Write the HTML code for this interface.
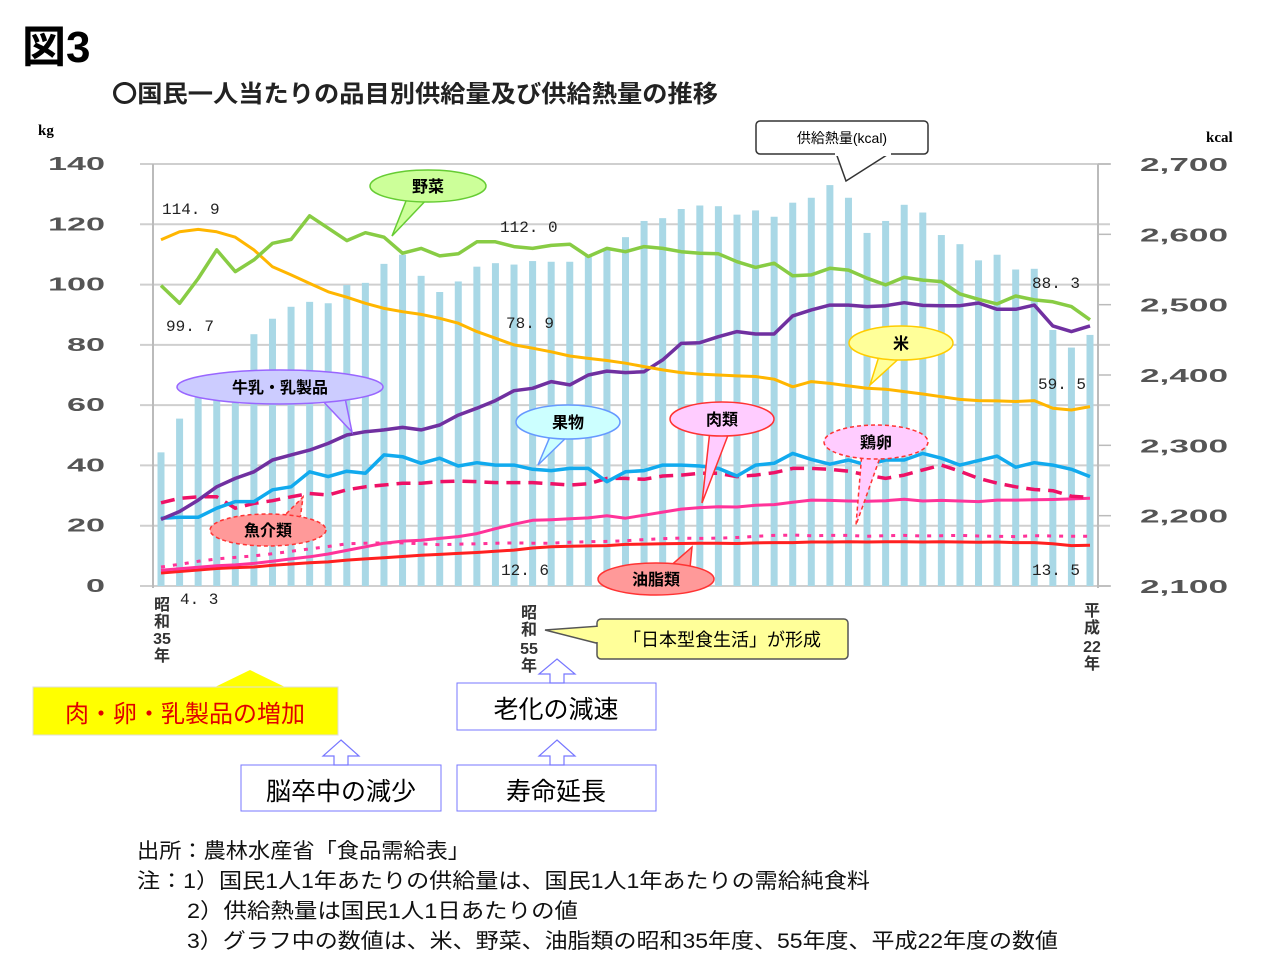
<!DOCTYPE html>
<html><head><meta charset="utf-8">
<style>
html,body{margin:0;padding:0;background:#fff;}
svg{display:block;font-family:"Liberation Sans","Noto Sans CJK JP",sans-serif;}
.jp{font-family:"Liberation Sans","Noto Sans CJK JP",sans-serif;}
.num{font-family:"Liberation Mono","Noto Sans CJK JP",monospace;font-size:16px;fill:#222;}
.tick{font-family:"Liberation Sans",sans-serif;font-size:18px;fill:#555;font-weight:bold;}
</style></head>
<body>
<svg id="chart" width="1280" height="960" viewBox="0 0 1280 960">
<text x="22" y="62" font-size="44" font-weight="bold" class="jp">図3</text>
<text x="112" y="102" font-size="24" font-weight="bold" fill="#222" class="jp" textLength="606" lengthAdjust="spacingAndGlyphs">〇国民一人当たりの品目別供給量及び供給熱量の推移</text>
<text x="38" y="135" font-size="15" font-weight="bold" font-family="Liberation Serif">kg</text>
<text x="1206" y="142" font-size="15" font-weight="bold" font-family="Liberation Serif">kcal</text>
<g id="grid"></g>
<g id="bars"></g>
<g id="lines"></g>
<g id="axes"></g>

<g>
<polygon points="408,196 430,196 392,236" fill="#ccff99" stroke="#66cc33" stroke-width="1.5"/>
<ellipse cx="428" cy="186" rx="58" ry="16" fill="#ccff99" stroke="#66cc33" stroke-width="1.5"/>
<text x="428" y="192" text-anchor="middle" font-size="16" font-weight="bold" class="jp">野菜</text></g>
<g>
<polygon points="320,398 345,398 352,432" fill="#ccccff" stroke="#9966ff" stroke-width="1.5"/>
<ellipse cx="280" cy="387" rx="103" ry="17" fill="#ccccff" stroke="#9966ff" stroke-width="1.5"/>
<text x="280" y="393" text-anchor="middle" font-size="16" font-weight="bold" class="jp">牛乳・乳製品</text></g>
<g>
<polygon points="552,432 572,432 538,465" fill="#ccffff" stroke="#6699ff" stroke-width="1.5"/>
<ellipse cx="568" cy="422" rx="52" ry="17" fill="#ccffff" stroke="#6699ff" stroke-width="1.5"/>
<text x="568" y="428" text-anchor="middle" font-size="16" font-weight="bold" class="jp">果物</text></g>
<g>
<polygon points="710,430 730,430 702,503" fill="#ffccff" stroke="#ff3333" stroke-width="1.5"/>
<ellipse cx="722" cy="419" rx="52" ry="17" fill="#ffccff" stroke="#ff3333" stroke-width="1.5"/>
<text x="722" y="425" text-anchor="middle" font-size="16" font-weight="bold" class="jp">肉類</text></g>
<g>
<polygon points="862,452 882,452 856,525" fill="#ffccff" stroke="#ff3333" stroke-width="1.5" stroke-dasharray="4,3"/>
<ellipse cx="876" cy="442" rx="52" ry="17" fill="#ffccff" stroke="#ff3333" stroke-width="1.5" stroke-dasharray="4,3"/>
<text x="876" y="448" text-anchor="middle" font-size="16" font-weight="bold" class="jp">鶏卵</text></g>
<g>
<polygon points="880,353 905,353 870,385" fill="#ffff99" stroke="#ffcc00" stroke-width="1.5"/>
<ellipse cx="901" cy="343" rx="52" ry="17" fill="#ffff99" stroke="#ffcc00" stroke-width="1.5"/>
<text x="901" y="349" text-anchor="middle" font-size="16" font-weight="bold" class="jp">米</text></g>
<g>
<polygon points="280,520 300,520 303,497" fill="#ff9999" stroke="#ff3333" stroke-width="1.5" stroke-dasharray="4,3"/>
<ellipse cx="268" cy="530" rx="58" ry="16" fill="#ff9999" stroke="#ff3333" stroke-width="1.5" stroke-dasharray="4,3"/>
<text x="268" y="536" text-anchor="middle" font-size="16" font-weight="bold" class="jp">魚介類</text></g>
<g>
<polygon points="668,568 690,568 692,547" fill="#ff9999" stroke="#ff3333" stroke-width="1.5"/>
<ellipse cx="656" cy="579" rx="58" ry="16" fill="#ff9999" stroke="#ff3333" stroke-width="1.5"/>
<text x="656" y="585" text-anchor="middle" font-size="16" font-weight="bold" class="jp">油脂類</text></g>
<g>
<polygon points="836,153 890,153 846,181" fill="#fff" stroke="#333" stroke-width="1.5"/>
<rect x="756" y="121" width="172" height="33" rx="4" fill="#fff" stroke="#333" stroke-width="1.5"/>
<rect x="835" y="150" width="56" height="6" fill="#fff"/>
<text x="842" y="143" text-anchor="middle" font-size="14" class="jp">供給熱量(kcal)</text></g>
<g>
<polygon points="600,626 600,644 545,630" fill="#ffff99" stroke="#555" stroke-width="1.5"/>
<rect x="597" y="619" width="251" height="40" rx="4" fill="#ffff99" stroke="#555" stroke-width="1.5"/>
<rect x="596" y="627" width="4" height="15" fill="#ffff99"/>
<text x="722" y="646" text-anchor="middle" font-size="18" class="jp">「日本型食生活」が形成</text></g>

<text class="num" x="162" y="214">114. 9</text>
<text class="num" x="166" y="331">99. 7</text>
<text class="num" x="500" y="232">112. 0</text>
<text class="num" x="506" y="328">78. 9</text>
<text class="num" x="1032" y="288">88. 3</text>
<text class="num" x="1038" y="389">59. 5</text>
<text class="num" x="501" y="575">12. 6</text>
<text class="num" x="1032" y="575">13. 5</text>
<text class="num" x="180" y="604">4. 3</text>

<g font-size="16" font-weight="bold" fill="#333" class="jp" text-anchor="middle">
<text x="162" y="610">昭</text><text x="162" y="627">和</text><text x="162" y="644">35</text><text x="162" y="661">年</text></g>
<g font-size="16" font-weight="bold" fill="#333" class="jp" text-anchor="middle">
<text x="529" y="618">昭</text><text x="529" y="635">和</text><text x="529" y="654">55</text><text x="529" y="671">年</text></g>
<g font-size="16" font-weight="bold" fill="#333" class="jp" text-anchor="middle">
<text x="1092" y="616">平</text><text x="1092" y="633">成</text><text x="1092" y="652">22</text><text x="1092" y="669">年</text></g>

<g>
<polygon points="213,688 250,670 287,688" fill="#ffff00"/>
<rect x="33" y="687" width="305" height="48" fill="#ffff00" stroke="#ddd"/>
<text x="185" y="722" text-anchor="middle" font-size="24" fill="#e00000" class="jp">肉・卵・乳製品の増加</text></g>
<g>
<rect x="457" y="683" width="199" height="47" fill="#fff" stroke="#7777ff"/>
<text x="556" y="718" text-anchor="middle" font-size="25" class="jp">老化の減速</text></g>
<g>
<rect x="241" y="765" width="200" height="46" fill="#fff" stroke="#7777ff"/>
<text x="341" y="800" text-anchor="middle" font-size="25" class="jp">脳卒中の減少</text></g>
<g>
<rect x="457" y="765" width="199" height="46" fill="#fff" stroke="#7777ff"/>
<text x="556" y="800" text-anchor="middle" font-size="25" class="jp">寿命延長</text></g>
<g fill="#fff" stroke="#7777ff" stroke-width="1.2">
<polygon points="557,659 575,674 564,674 564,683 550,683 550,674 539,674"/>
<polygon points="557,740 575,756 564,756 564,765 550,765 550,756 539,756"/>
<polygon points="341,740 359,756 348,756 348,765 334,765 334,756 323,756"/>
</g>

<g font-size="21" class="jp" fill="#111">
<text x="137" y="858" textLength="333" lengthAdjust="spacingAndGlyphs">出所：農林水産省「食品需給表」</text>
<text x="137" y="888" textLength="733" lengthAdjust="spacingAndGlyphs">注：1）国民1人1年あたりの供給量は、国民1人1年あたりの需給純食料</text>
<text x="187" y="918" textLength="391" lengthAdjust="spacingAndGlyphs">2）供給熱量は国民1人1日あたりの値</text>
<text x="187" y="948" textLength="871" lengthAdjust="spacingAndGlyphs">3）グラフ中の数値は、米、野菜、油脂類の昭和35年度、55年度、平成22年度の数値</text>
</g>
</svg>
<script>
const years = [];
for (let y = 1960; y <= 2010; y++) years.push(y);
const kcal = [2290,2338,2369,2380,2390,2458,2480,2497,2504,2502,2528,2531,2558,2571,2541,2518,2533,2554,2559,2557,2562,2561,2561,2570,2578,2596,2619,2623,2636,2641,2640,2628,2634,2625,2645,2652,2670,2652,2602,2619,2642,2631,2599,2586,2563,2571,2550,2551,2464,2439,2457];
const rice = [114.9,117.5,118.3,117.5,115.7,111.5,105.9,103.2,100.4,97.6,95.8,93.8,92.1,91,90.1,88.8,87.2,84.4,82.2,80,78.9,77.7,76.3,75.5,74.8,73.9,72.8,71.7,70.8,70.3,70,69.7,69.5,68.6,66.1,67.8,67.2,66.4,65.6,65.3,64.5,63.7,62.8,61.9,61.5,61.4,61.2,61.5,59,58.4,59.5];
const veg = [99.7,93.8,102,111.5,104.3,108.2,113.7,115,122.8,118.7,114.6,117.2,115.7,110.4,112,109.5,110.2,114.2,114.2,112.6,112,113,113.4,109.3,112,110.9,112.6,112,110.9,110.4,110.2,107.6,105.7,107.1,102.9,103.2,105.4,104.8,102.1,99.9,102.4,101.5,101,96.9,95.1,93.6,96.2,94.9,94.3,92.7,88.3];
const milk = [22.1,24.7,28.5,32.9,35.7,37.9,41.8,43.5,45.1,47.3,50.1,51.2,51.8,52.6,51.8,53.4,56.7,59,61.5,64.8,65.6,67.8,66.7,70,71.3,70.8,71.1,75,80.5,80.7,82.7,84.4,83.6,83.6,89.6,91.6,93.2,93.2,92.7,93,94,93.1,93,93,93.9,91.8,91.8,93.2,86.3,84.4,86.3];
const fruit = [22.5,22.8,22.8,25.8,28,28,31.9,32.9,37.9,36.3,38.1,37.4,43.5,42.9,40.7,42.4,39.8,40.9,40.1,40.1,38.7,38.3,39,39,34.6,37.9,38.3,40.1,40.1,39.8,39,36.5,40.1,40.7,44,42,40.4,41.8,40.1,41.8,41.8,44,42.4,40.1,41.6,43.1,39.4,40.9,40.1,38.7,36.3];
const fish = [27.6,29.1,29.6,29.6,25.8,27.4,28.3,29.6,30.7,30.2,31.9,32.9,33.5,34.1,34.1,34.6,34.8,34.6,34.3,34.3,34.3,33.9,33.5,33.9,35.7,35.7,35.4,36.5,36.8,37.4,37.4,36.3,36.8,37.6,39,39,38.7,38.1,36.8,35.7,36.8,38.5,40.1,38.1,35.7,34.1,32.9,32,31.6,29.8,29.4];
const meat = [5.2,5.7,6.2,6.7,7.0,7.5,8.2,9.0,9.7,10.6,11.8,13.0,14.2,14.9,15.2,15.8,16.4,17.4,19.0,20.5,21.8,22.0,22.3,22.6,23.3,22.5,23.5,24.5,25.5,26.0,26.3,26.2,26.8,27.0,27.8,28.5,28.4,28.2,28.1,28.3,28.8,28.2,28.4,28.2,28.0,28.5,28.5,28.6,28.7,28.9,29.1];
const egg = [6.3,7.2,8.2,9.0,9.5,10.0,10.7,11.5,12.3,13.1,14.0,14.2,14.3,14.3,14.0,13.7,13.9,14.0,14.2,14.3,14.2,14.2,14.5,14.7,14.8,15.0,15.4,15.7,15.9,15.8,15.9,16.1,16.5,16.8,16.9,16.7,16.8,16.8,16.5,16.7,16.8,16.6,16.7,16.8,16.6,16.5,16.4,16.7,16.6,16.5,16.5];
const oil = [4.3,4.8,5.3,5.8,6.1,6.3,6.9,7.3,7.7,8.0,8.6,9.0,9.4,9.8,10.2,10.5,10.8,11.1,11.5,11.9,12.6,13.0,13.2,13.3,13.4,13.8,13.9,14.0,14.1,14.2,14.2,14.1,14.3,14.4,14.4,14.6,14.6,14.7,14.6,14.7,14.7,14.6,14.7,14.6,14.5,14.6,14.4,14.4,14.0,13.4,13.5];
const leftTicks = [0,20,40,60,80,100,120,140];
const rightTicks = ["2,100","2,200","2,300","2,400","2,500","2,600","2,700"];
const rightTickVals = [2100,2200,2300,2400,2500,2600,2700];

const NS = "http://www.w3.org/2000/svg";
const X0 = 161, X1 = 1090, YT = 164, YB = 586;
const xs = i => X0 + (X1 - X0) * i / (years.length - 1);
const yL = v => YB - (v / 140) * (YB - YT);
const yR = v => YB - ((v - 2100) / 600) * (YB - YT);
function mk(tag, attrs, parent) {
  const e = document.createElementNS(NS, tag);
  for (const k in attrs) e.setAttribute(k, attrs[k]);
  parent.appendChild(e);
  return e;
}
const grid = document.getElementById('grid');
const bars = document.getElementById('bars');
const lines = document.getElementById('lines');
const axes = document.getElementById('axes');

leftTicks.forEach(v => {
  const l = mk('line', {x1: 140, x2: 1110, y1: yL(v), y2: yL(v), stroke: '#cfcfcf', 'stroke-width': 2}, grid);
  
  
  const s = String(v);
  const w = s.length === 3 ? 57 : (s.length === 2 ? 38 : 19);
  const t = mk('text', {x: 105 - w, y: yL(v) + 6, class: 'tick', textLength: w, lengthAdjust: 'spacingAndGlyphs'}, axes);
  t.textContent = s;
  
  
});
rightTickVals.forEach((v, i) => {
  mk('line', {x1: 1098, x2: 1111, y1: yR(v), y2: yR(v), stroke: '#bbb', 'stroke-width': 1.5}, axes);
  const t = mk('text', {x: 1140, y: yR(v) + 7, class: 'tick', textLength: 88, lengthAdjust: 'spacingAndGlyphs'}, axes);
  t.textContent = rightTicks[i];
  
  
});
mk('line', {x1: 153, x2: 153, y1: YT, y2: YB + 2, stroke: '#bbb', 'stroke-width': 2}, axes);
mk('line', {x1: 1098, x2: 1098, y1: YT, y2: YB + 2, stroke: '#bbb', 'stroke-width': 2}, axes);

kcal.forEach((v, i) => {
  const r = mk('rect', {x: xs(i) - 3.5, y: yR(v), width: 7, height: YB - yR(v), fill: '#a9d8e6'}, bars);
  
  
});

function series(data, color, width, dash, name) {
  const pts = data.map((v, i) => xs(i).toFixed(1) + ',' + yL(v).toFixed(1)).join(' ');
  const p = mk('polyline', {points: pts, fill: 'none', stroke: color, 'stroke-width': width, 'stroke-linejoin': 'round'}, lines);
  if (dash) p.setAttribute('stroke-dasharray', dash);
  
  
}
series(egg, '#ff3399', 3, '4,8', 'egg-line');
series(oil, '#ff2020', 3, null, 'oil-line');
series(meat, '#ff3399', 3, null, 'meat-line');
series(fish, '#ee1166', 3.5, '14,8', 'fish-line');
series(fruit, '#11aaee', 3.5, null, 'fruit-line');
series(milk, '#7030a0', 3.5, null, 'milk-line');
series(rice, '#ffb600', 3, null, 'rice-line');
series(veg, '#88cc44', 3.5, null, 'vegetable-line');
</script>
</body></html>
